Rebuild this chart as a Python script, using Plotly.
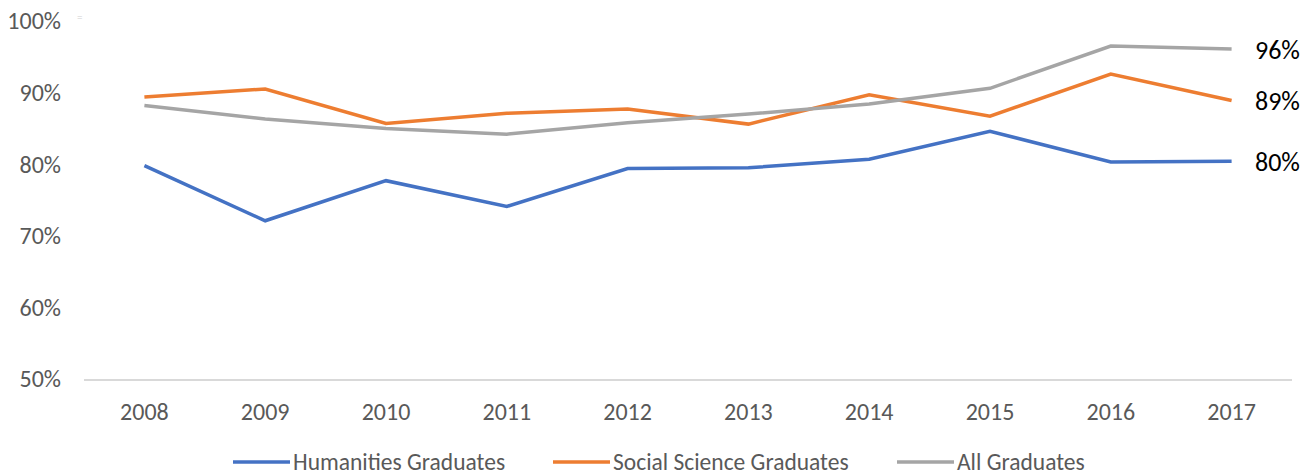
import plotly.graph_objects as go

years = ["2008", "2009", "2010", "2011", "2012", "2013", "2014", "2015", "2016", "2017"]
humanities = [79.8, 72.1, 77.7, 74.1, 79.4, 79.5, 80.7, 84.6, 80.3, 80.4]
social_science = [89.4, 90.5, 85.7, 87.1, 87.7, 85.6, 89.7, 86.7, 92.6, 88.9]
all_grads = [88.2, 86.3, 85.0, 84.2, 85.8, 87.0, 88.4, 90.6, 96.5, 96.1]

series_names = ["Humanities Graduates", "Social Science Graduates", "All Graduates"]
series_values = [humanities, social_science, all_grads]
colors = ["#4472C4", "#ED7D31", "#A5A5A5"]

FONT = "Carlito, Calibri, Lato, sans-serif"

W, H = 1314, 475
L, R, T, B = 84, 22, 21, 96
PW, PH = W - L - R, H - T - B


def px_x(px):
    return (px - L) / PW


def px_y(py):
    return (H - B - py) / PH


fig = go.Figure()
for name, vals, col in zip(series_names, series_values, colors):
    fig.add_trace(go.Scatter(
        x=years, y=vals, name=name, mode="lines",
        line=dict(color=col, width=3.5),
        showlegend=False,
    ))
    fig.add_annotation(
        x=len(years) - 1, y=vals[-1], text=f"{round(vals[-1])}%",
        showarrow=False, xanchor="left", xshift=21, yshift=-1,
        font=dict(family=FONT, size=26, color="#000000"),
    )

# manual legend (long line swatches as in the reference)
legend_x = [233, 553, 897]
for name, col, lx in zip(series_names, colors, legend_x):
    fig.add_shape(
        type="line", xref="paper", yref="paper",
        x0=px_x(lx), x1=px_x(lx + 57), y0=px_y(462), y1=px_y(462),
        line=dict(color=col, width=3.5),
    )
    fig.add_annotation(
        xref="paper", yref="paper", x=px_x(lx + 58), y=px_y(462),
        text=name, showarrow=False, xanchor="left", yanchor="middle",
        font=dict(family=FONT, size=23.5, color="#595959"),
    )

fig.add_annotation(
    xref="paper", yref="paper", x=px_x(79), y=px_y(18), text="=",
    showarrow=False, xanchor="center", yanchor="middle",
    font=dict(family=FONT, size=11, color="#d0d0d0"),
)

fig.update_layout(
    width=W, height=H,
    margin=dict(l=L, r=R, t=T, b=B, autoexpand=False),
    paper_bgcolor="white", plot_bgcolor="white",
    font=dict(family=FONT, size=24, color="#595959"),
    showlegend=False,
    xaxis=dict(
        type="category", range=[-0.5, len(years) - 0.5], automargin=False,
        showgrid=False, zeroline=False,
        showline=True, linecolor="#d9d9d9", linewidth=1.5,
        ticks="", tickfont=dict(family=FONT, size=24, color="#595959"),
        ticklabelstandoff=10,
    ),
    yaxis=dict(
        range=[50, 100], dtick=10, ticksuffix="%", automargin=False,
        showgrid=False, zeroline=False, showline=False,
        ticks="", tickfont=dict(family=FONT, size=24, color="#595959"),
        ticklabelstandoff=22,
    ),
)

fig.write_html(
    "out.html",
    config={"displayModeBar": False},
    post_script="document.body.style.margin='0';document.body.style.overflow='hidden';",
)
